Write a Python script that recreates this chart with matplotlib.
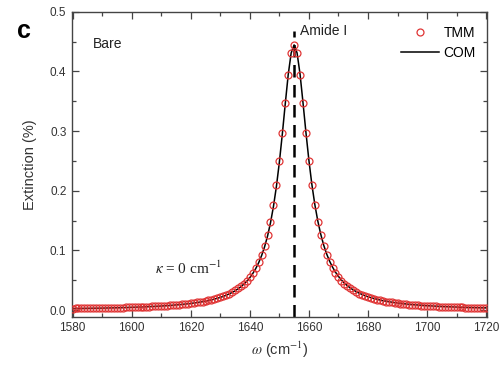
import matplotlib
matplotlib.use("Agg")

import matplotlib.pyplot as plt
import numpy as np
from matplotlib.ticker import MultipleLocator

# frequency grid (cm^-1) and extinction (%)
freq = np.arange(1580, 1721)
tmm = [
    0.0025, 0.0026, 0.0027, 0.0027, 0.0028, 0.0029, 0.0030, 0.0031, 0.0031, 0.0032,
    0.0033, 0.0034, 0.0036, 0.0037, 0.0038, 0.0039, 0.0040, 0.0042, 0.0043, 0.0045,
    0.0046, 0.0048, 0.0050, 0.0052, 0.0054, 0.0056, 0.0058, 0.0061, 0.0063, 0.0066,
    0.0069, 0.0072, 0.0076, 0.0079, 0.0083, 0.0087, 0.0091, 0.0096, 0.0101, 0.0107,
    0.0113, 0.0120, 0.0127, 0.0135, 0.0143, 0.0152, 0.0163, 0.0174, 0.0187, 0.0201,
    0.0216, 0.0234, 0.0253, 0.0275, 0.0300, 0.0329, 0.0362, 0.0399, 0.0443, 0.0493,
    0.0553, 0.0623, 0.0707, 0.0807, 0.0929, 0.1076, 0.1257, 0.1480, 0.1754, 0.2089,
    0.2493, 0.2960, 0.3465, 0.3947, 0.4305, 0.4440,
    0.4305, 0.3947, 0.3465, 0.2960, 0.2493, 0.2089, 0.1754, 0.1480, 0.1257, 0.1076,
    0.0929, 0.0807, 0.0707, 0.0623, 0.0553, 0.0493, 0.0443, 0.0399, 0.0362, 0.0329,
    0.0300, 0.0275, 0.0253, 0.0234, 0.0216, 0.0201, 0.0187, 0.0174, 0.0163, 0.0152,
    0.0143, 0.0135, 0.0127, 0.0120, 0.0113, 0.0107, 0.0101, 0.0096, 0.0091, 0.0087,
    0.0083, 0.0079, 0.0076, 0.0072, 0.0069, 0.0066, 0.0063, 0.0061, 0.0058, 0.0056,
    0.0054, 0.0052, 0.0050, 0.0048, 0.0046, 0.0045, 0.0043, 0.0042, 0.0040, 0.0039,
    0.0038, 0.0037, 0.0036, 0.0034, 0.0033,
]
com = [
    0.0024, 0.0025, 0.0026, 0.0026, 0.0027, 0.0028, 0.0029, 0.0030, 0.0030, 0.0031,
    0.0032, 0.0033, 0.0035, 0.0036, 0.0037, 0.0038, 0.0039, 0.0041, 0.0042, 0.0044,
    0.0045, 0.0047, 0.0049, 0.0051, 0.0053, 0.0055, 0.0057, 0.0059, 0.0061, 0.0064,
    0.0067, 0.0070, 0.0074, 0.0077, 0.0081, 0.0085, 0.0089, 0.0094, 0.0099, 0.0104,
    0.0110, 0.0117, 0.0124, 0.0132, 0.0140, 0.0149, 0.0159, 0.0170, 0.0183, 0.0197,
    0.0212, 0.0229, 0.0248, 0.0270, 0.0294, 0.0322, 0.0355, 0.0392, 0.0435, 0.0484,
    0.0543, 0.0612, 0.0695, 0.0794, 0.0914, 0.1060, 0.1240, 0.1462, 0.1736, 0.2071,
    0.2477, 0.2948, 0.3458, 0.3946, 0.4310, 0.4445,
    0.4310, 0.3958, 0.3480, 0.2978, 0.2512, 0.2108, 0.1772, 0.1497, 0.1273, 0.1090,
    0.0942, 0.0820, 0.0720, 0.0635, 0.0565, 0.0504, 0.0453, 0.0409, 0.0371, 0.0338,
    0.0309, 0.0283, 0.0261, 0.0241, 0.0223, 0.0208, 0.0194, 0.0181, 0.0169, 0.0158,
    0.0149, 0.0140, 0.0132, 0.0125, 0.0118, 0.0112, 0.0106, 0.0100, 0.0095, 0.0091,
    0.0087, 0.0083, 0.0079, 0.0076, 0.0073, 0.0070, 0.0067, 0.0064, 0.0062, 0.0059,
    0.0057, 0.0055, 0.0053, 0.0051, 0.0049, 0.0048, 0.0046, 0.0044, 0.0043, 0.0042,
    0.0040, 0.0039, 0.0038, 0.0037, 0.0036,
]
amide_pos = 1655
amide_top = 0.467

plt.rcParams['font.family'] = ['Liberation Sans', 'DejaVu Sans']
plt.rcParams['mathtext.fontset'] = 'stix'

fig = plt.figure(figsize=(5, 3.69), dpi=100)
ax = fig.add_axes([0.144, 0.142, 0.830, 0.826])

gray = '#444444'

ax.vlines(amide_pos, -0.011, amide_top, colors='black', linestyles=(0, (5, 3)),
          linewidth=1.8, zorder=1)
ax.plot(freq, com, color='black', linewidth=1.1, label='COM', zorder=2)
ax.plot(freq, tmm, linestyle='none', marker='o', markersize=5,
        markerfacecolor='none', markeredgecolor='#e03535', markeredgewidth=0.9,
        label='TMM', zorder=3)

ax.set_xlim(1579.8, 1720.3)
ax.set_ylim(-0.011, 0.5)
ax.xaxis.set_major_locator(MultipleLocator(20))
ax.xaxis.set_minor_locator(MultipleLocator(10))
ax.yaxis.set_major_locator(MultipleLocator(0.1))
ax.yaxis.set_minor_locator(MultipleLocator(0.05))
ax.yaxis.set_major_formatter(matplotlib.ticker.FormatStrFormatter('%.1f'))

ax.tick_params(which='both', direction='in', top=True, right=True,
               colors=gray, labelcolor='#333333', labelsize=8.5, width=0.9)
ax.tick_params(which='major', length=5, pad=4)
ax.tick_params(which='minor', length=3)
for s in ax.spines.values():
    s.set_color(gray)
    s.set_linewidth(1.0)

ax.set_xlabel(r'$\omega$ (cm$^{-1}$)', fontsize=10.5, color='#333333', labelpad=4)
ax.set_ylabel('Extinction (%)', fontsize=10.5, color='#333333', labelpad=9)

ax.text(1587, 0.446, 'Bare', fontsize=10, color='#222222', va='center')
ax.text(1657, 0.468, 'Amide I', fontsize=10, color='#222222', va='center')
ax.text(1608, 0.07, r'$\kappa$ = 0 cm$^{-1}$', fontsize=11, color='#222222',
        va='center', family='Liberation Serif')
fig.text(0.034, 0.915, 'c', fontsize=18, fontweight='bold', va='center')

handles, labels = ax.get_legend_handles_labels()
ax.legend(handles[::-1], labels[::-1], loc='upper right', frameon=False,
          fontsize=10, handlelength=2.8, handletextpad=0.3, labelspacing=0.45,
          borderaxespad=0.4, bbox_to_anchor=(1.0, 0.99))

fig.savefig('out.png', dpi=100)
